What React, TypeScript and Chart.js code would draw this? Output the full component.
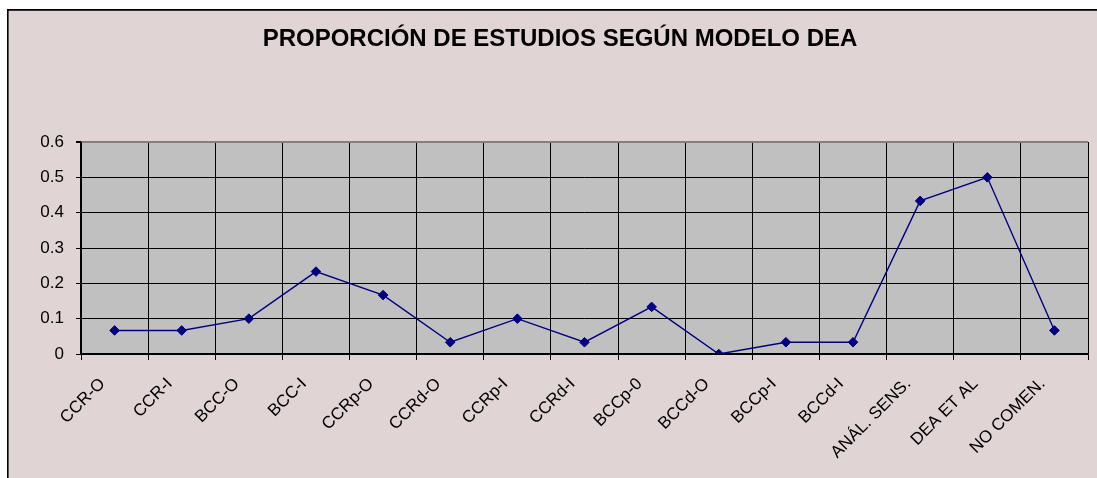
import React, { useEffect, useRef } from "react";
import { Chart, registerables } from "chart.js";

Chart.register(...registerables);

const categories = [
  "CCR-O", "CCR-I", "BCC-O", "BCC-I", "CCRp-O", "CCRd-O", "CCRp-I", "CCRd-I",
  "BCCp-0", "BCCd-O", "BCCp-I", "BCCd-I", "ANÁL. SENS.", "DEA ET AL", "NO COMEN.",
];
const proportions = [
  0.0667, 0.0667, 0.1, 0.2333, 0.1667, 0.0333, 0.1, 0.0333,
  0.1333, 0, 0.0333, 0.0333, 0.4333, 0.5, 0.0667,
];
const yTickLabels = ["0", "0.1", "0.2", "0.3", "0.4", "0.5", "0.6"];
const chartTitle = "PROPORCIÓN DE ESTUDIOS SEGÚN MODELO DEA";

const W = 1097;
const H = 478;
const FONT = "'Liberation Sans', Arial, sans-serif";

const framePlugin = {
  id: "frame",
  beforeDraw(chart: any) {
    const { ctx, chartArea } = chart;
    ctx.save();
    ctx.fillStyle = "#ffffff";
    ctx.fillRect(0, 0, W, H);
    ctx.fillStyle = "#e0d4d4";
    ctx.fillRect(8, 11, W - 8, H - 11);
    ctx.fillStyle = "#000000";
    ctx.fillRect(7, 9, 1.6, H - 9);
    ctx.fillRect(7, 9, W - 7, 1.8);
    ctx.fillStyle = "#c0c0c0";
    ctx.fillRect(chartArea.left, chartArea.top, chartArea.right - chartArea.left, chartArea.bottom - chartArea.top);
    ctx.restore();
  },
};

export default function App() {
  const ref = useRef<HTMLCanvasElement | null>(null);

  useEffect(() => {
    if (!ref.current) return;
    const chart = new Chart(ref.current, {
      type: "line",
      data: {
        labels: categories,
        datasets: [
          {
            data: proportions,
            borderColor: "#000080",
            backgroundColor: "#000080",
            borderWidth: 1.4,
            pointStyle: "rectRot",
            pointRadius: 4.8,
            pointBorderWidth: 1,
            pointBackgroundColor: "#000080",
            pointBorderColor: "#000080",
            tension: 0,
            fill: false,
          },
        ],
      },
      options: {
        responsive: false,
        animation: false,
        devicePixelRatio: 1,
        layout: { padding: { left: 32, right: 9, top: 0, bottom: 0 } },
        plugins: {
          legend: { display: false },
          tooltip: { enabled: false },
          title: {
            display: true,
            text: chartTitle,
            color: "#000000",
            font: { family: FONT, size: 24, weight: "bold" },
            padding: { top: 25, bottom: 88.2 },
          },
        },
        scales: {
          x: {
            type: "category",
            offset: true,
            grid: {
              offset: true,
              color: (c: any) => (c.index === categories.length ? "#808080" : "#000000"),
              lineWidth: (c: any) => (c.index === categories.length ? 2 : 1),
              tickColor: "#000000",
              tickLength: 6,
              drawOnChartArea: true,
            },
            border: { color: "#000000", width: 1.5 },
            ticks: {
              autoSkip: false,
              maxRotation: 45,
              minRotation: 45,
              color: "#000000",
              font: { family: FONT, size: 17 },
              padding: 14,
              labelOffset: -12,
            },
            afterFit: (s: any) => {
              s.height = 124;
            },
          },
          y: {
            min: 0,
            max: 0.6,
            grid: {
              color: (c: any) => (c.tick && c.tick.value >= 0.6 - 1e-9 ? "#808080" : "#000000"),
              lineWidth: (c: any) => (c.tick && c.tick.value >= 0.6 - 1e-9 ? 2 : 1),
              tickColor: "#000000",
              tickLength: 5,
            },
            border: { color: "#000000", width: 1.5 },
            ticks: {
              stepSize: 0.1,
              color: "#000000",
              font: { family: FONT, size: 17 },
              padding: 12,
              callback: (_v: any, i: number) => yTickLabels[i],
            },
            afterFit: (s: any) => {
              s.width = 49;
            },
          },
        },
      },
      plugins: [framePlugin],
    });
    return () => chart.destroy();
  }, []);

  return (
    <div style={{ position: "absolute", left: 0, top: 0, width: W, height: H }}>
      <canvas ref={ref} width={W} height={H} style={{ width: W, height: H, display: "block" }} />
    </div>
  );
}
